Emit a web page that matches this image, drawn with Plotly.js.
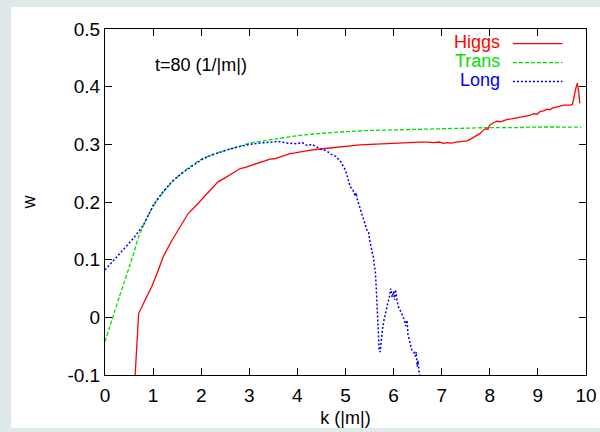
<!DOCTYPE html>
<html>
<head>
<meta charset="utf-8">
<script src="https://cdn.plot.ly/plotly-3.0.1.min.js"></script>
<style>
  html, body { margin: 0; padding: 0; width: 600px; height: 432px; background: #dfe9e9; overflow: hidden; }
  #chart { position: absolute; left: 11px; top: 7px; width: 589px; height: 421px; background: #ffffff; }
</style>
</head>
<body>
<div id="chart"></div>
<script>
// ---- data ----
const seriesNames = ["Higgs", "Trans", "Long"];

const higgsK = [0.62, 0.70, 0.84, 0.97, 1.10, 1.21, 1.38, 1.56, 1.73, 1.85, 1.97, 2.13, 2.29, 2.35, 2.48, 2.60, 2.70, 2.81, 2.92, 3.02, 3.12, 3.20, 3.32, 3.43, 3.52, 3.60, 3.72, 3.85, 3.95, 4.06, 4.16, 4.27, 4.38, 4.50, 4.60, 4.69, 4.85, 5.00, 5.11, 5.30, 5.52, 5.75, 5.94, 6.14, 6.36, 6.55, 6.70, 6.83, 6.95, 7.04, 7.12, 7.20, 7.30, 7.39, 7.48, 7.53, 7.60, 7.67, 7.73, 7.80, 7.87, 7.92, 7.96, 8.00, 8.07, 8.15, 8.22, 8.30, 8.35, 8.45, 8.57, 8.66, 8.75, 8.83, 8.91, 8.98, 9.05, 9.12, 9.19, 9.25, 9.30, 9.38, 9.45, 9.54, 9.61, 9.68, 9.72, 9.75, 9.79, 9.82, 9.85, 9.87];
const higgsW = [-0.110, 0.007, 0.031, 0.053, 0.080, 0.105, 0.132, 0.157, 0.180, 0.190, 0.2005, 0.215, 0.2295, 0.235, 0.241, 0.247, 0.252, 0.258, 0.260, 0.263, 0.266, 0.268, 0.272, 0.2745, 0.275, 0.277, 0.281, 0.284, 0.285, 0.287, 0.288, 0.290, 0.291, 0.292, 0.294, 0.2948, 0.296, 0.297, 0.298, 0.299, 0.300, 0.301, 0.302, 0.303, 0.3035, 0.304, 0.304, 0.303, 0.304, 0.3018, 0.303, 0.302, 0.304, 0.3046, 0.305, 0.306, 0.309, 0.313, 0.316, 0.319, 0.325, 0.327, 0.326, 0.3335, 0.337, 0.340, 0.339, 0.342, 0.343, 0.344, 0.346, 0.347, 0.349, 0.350, 0.353, 0.352, 0.357, 0.358, 0.361, 0.360, 0.363, 0.365, 0.366, 0.368, 0.368, 0.368, 0.370, 0.383, 0.398, 0.406, 0.390, 0.371];

const transK = [0, 0.1, 0.2, 0.3, 0.4, 0.5, 0.6, 0.7, 0.8, 0.9, 1.0, 1.1, 1.2, 1.3, 1.4, 1.5, 1.6, 1.7, 1.8, 1.9, 2.0, 2.2, 2.4, 2.6, 2.8, 3.0, 3.3, 3.6, 4.0, 4.5, 5.0, 5.5, 6.0, 6.5, 7.0, 7.5, 8.0, 8.5, 9.0, 9.5, 9.9];
const transW = [-0.042, -0.016, 0.010, 0.036, 0.061, 0.086, 0.112, 0.140, 0.160, 0.177, 0.192, 0.205, 0.216, 0.226, 0.235, 0.243, 0.250, 0.257, 0.263, 0.269, 0.274, 0.281, 0.287, 0.292, 0.297, 0.302, 0.306, 0.310, 0.315, 0.319, 0.322, 0.324, 0.325, 0.326, 0.327, 0.328, 0.329, 0.329, 0.330, 0.330, 0.330];

const longK = [0, 0.2, 0.4, 0.6, 0.8, 1.0, 1.2, 1.4, 1.6, 1.8, 2.0, 2.2, 2.4, 2.6, 2.8, 3.0, 3.2, 3.4, 3.6, 3.8, 4.0, 4.1, 4.2, 4.3, 4.4, 4.5, 4.6, 4.7, 4.8, 4.9, 5.0, 5.05, 5.1, 5.15, 5.2, 5.22, 5.25, 5.3, 5.35, 5.4, 5.45, 5.48, 5.5, 5.55, 5.58, 5.6, 5.62, 5.64, 5.66, 5.68, 5.7, 5.72, 5.74, 5.77, 5.8, 5.84, 5.88, 5.92, 5.94, 5.97, 6.0, 6.02, 6.04, 6.07, 6.1, 6.15, 6.2, 6.23, 6.25, 6.28, 6.3, 6.35, 6.38, 6.42, 6.45, 6.47, 6.49, 6.51, 6.53, 6.56];
const longW = [0.082, 0.101, 0.119, 0.138, 0.160, 0.194, 0.217, 0.236, 0.250, 0.262, 0.273, 0.281, 0.287, 0.292, 0.296, 0.300, 0.302, 0.304, 0.305, 0.302, 0.301, 0.303, 0.298, 0.300, 0.295, 0.291, 0.289, 0.283, 0.279, 0.270, 0.255, 0.240, 0.226, 0.222, 0.210, 0.216, 0.203, 0.190, 0.178, 0.162, 0.150, 0.148, 0.135, 0.115, 0.105, 0.090, 0.080, 0.050, 0.020, -0.015, -0.058, -0.060, -0.040, -0.020, -0.005, 0.012, 0.025, 0.038, 0.050, 0.035, 0.045, 0.030, 0.048, 0.030, 0.018, 0.010, 0.000, -0.006, -0.015, -0.005, -0.030, -0.045, -0.057, -0.060, -0.068, -0.060, -0.085, -0.075, -0.095, -0.105];

const xTickVals = [0, 1, 2, 3, 4, 5, 6, 7, 8, 9, 10];
const xTickText = ["0", "1", "2", "3", "4", "5", "6", "7", "8", "9", "10"];
const yTickVals = [-0.1, 0, 0.1, 0.2, 0.3, 0.4, 0.5];
const yTickText = ["-0.1", "0", "0.1", "0.2", "0.3", "0.4", "0.5"];

const colors = ["#ff0000", "#00e000", "#0000ff"];
const dashes = ["solid", "4px,2px", "2px,2px"];

const FONT = "Liberation Sans, Arial, Helvetica, sans-serif";

const traces = [
  { x: higgsK, y: higgsW, name: seriesNames[0], mode: "lines", line: { color: colors[0], width: 1.3, dash: dashes[0] } },
  { x: transK, y: transW, name: seriesNames[1], mode: "lines", line: { color: colors[1], width: 1.3, dash: dashes[1], shape: "spline", smoothing: 0.6 } },
  { x: longK, y: longW, name: seriesNames[2], mode: "lines", line: { color: colors[2], width: 1.5, dash: dashes[2] } }
];

const axisCommon = {
  showgrid: false, zeroline: false, showline: true, linecolor: "#000", linewidth: 1,
  mirror: "allticks", ticks: "inside", ticklen: 7, tickwidth: 1, tickcolor: "#000",
  tickfont: { family: FONT, size: 19, color: "#000" }
};

// legend (text right-aligned, sample line to the right) drawn in paper coords
const legY = [0.962, 0.907, 0.852];
const annotations = [
  { xref: "x", yref: "y", x: 1.0, y: 0.4375, xanchor: "left", yanchor: "middle", showarrow: false,
    text: "t=80 (1/|m|)", font: { family: FONT, size: 18, color: "#000" } }
];
const shapes = [];
seriesNames.forEach((n, i) => {
  annotations.push({ xref: "paper", yref: "paper", x: 0.826, y: legY[i], xanchor: "right", yanchor: "middle",
    showarrow: false, text: n, font: { family: FONT, size: 18, color: colors[i] } });
  shapes.push({ type: "line", xref: "paper", yref: "paper", x0: 0.848, x1: 0.951, y0: legY[i] - 0.004, y1: legY[i] - 0.004,
    line: { color: colors[i], width: i === 2 ? 1.5 : 1.3, dash: dashes[i] } });
});

const layout = {
  width: 589, height: 421,
  margin: { l: 94, r: 14, t: 22, b: 53, pad: 0 },
  paper_bgcolor: "#ffffff", plot_bgcolor: "#ffffff",
  showlegend: false,
  xaxis: Object.assign({}, axisCommon, {
    range: [0, 10], tickmode: "array", tickvals: xTickVals, ticktext: xTickText,
    ticklabelstandoff: 3,
    title: { text: "k (|m|)", font: { family: FONT, size: 18, color: "#000" }, standoff: 15 }
  }),
  yaxis: Object.assign({}, axisCommon, {
    range: [-0.1, 0.5], tickmode: "array", tickvals: yTickVals, ticktext: yTickText,
    title: { text: "w", font: { family: FONT, size: 18, color: "#000" }, standoff: 27 }
  }),
  annotations: annotations,
  shapes: shapes
};

Plotly.newPlot("chart", traces, layout, { displayModeBar: false, staticPlot: true });
</script>
</body>
</html>
